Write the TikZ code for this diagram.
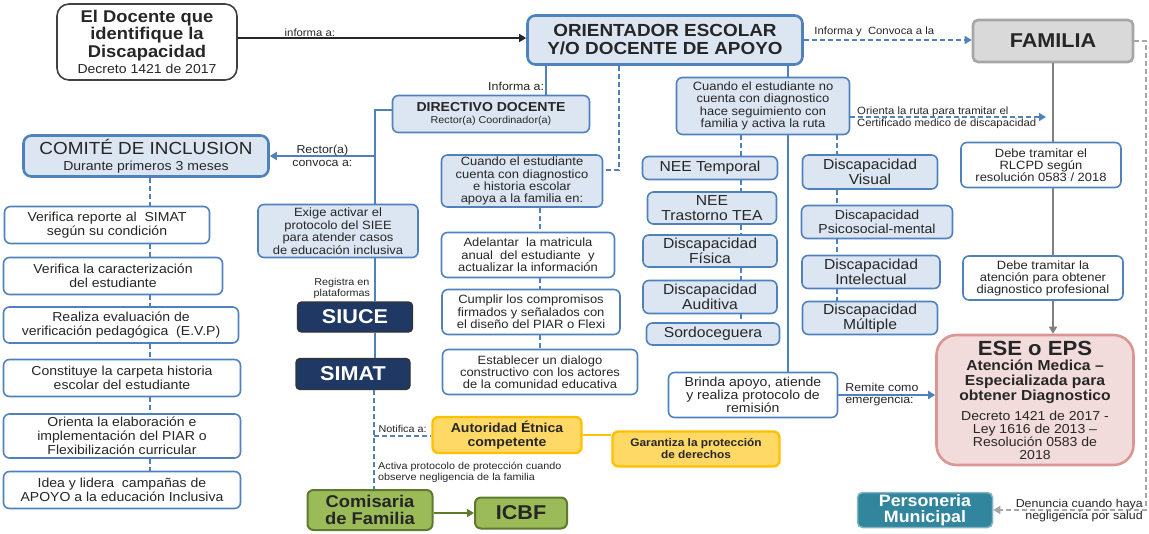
\documentclass[tikz,border=0pt]{standalone}
\usepackage{fontspec}
\setmainfont{Liberation Sans}[FakeStretch=1.08]
\usepackage{tikz}
\usetikzlibrary{arrows.meta}

\definecolor{azulborde}{HTML}{4F81BD}
\definecolor{azulfondo}{HTML}{DCE6F2}
\definecolor{marino}{HTML}{203864}
\definecolor{amarillo}{HTML}{FFD966}
\definecolor{ambar}{HTML}{FFC000}
\definecolor{verde}{HTML}{9BBB59}
\definecolor{verdeosc}{HTML}{5E7A2C}
\definecolor{rosa}{HTML}{F2DCDB}
\definecolor{rosaborde}{HTML}{D99694}
\definecolor{grisfondo}{HTML}{D9D9D9}
\definecolor{grisborde}{HTML}{A6A6A6}
\definecolor{grislinea}{HTML}{808080}
\definecolor{petroleo}{HTML}{31859C}
\definecolor{texto}{HTML}{262626}
\newcommand{\tam}[2]{\fontsize{#1}{#2}\selectfont}

\begin{document}
\begin{tikzpicture}[x=1pt, y=-1pt,
  caja/.style={draw=azulborde, line width=1.6pt, rounded corners=6pt, fill=white,
    align=center, inner sep=1pt, text=texto, font=\tam{13}{14}},
  cajaazul/.style={caja, fill=azulfondo},
  cajagruesa/.style={cajaazul, line width=2.6pt, rounded corners=8pt},
  plataforma/.style={draw=black!80, line width=1.4pt, rounded corners=4pt, fill=marino,
    text=white, inner sep=1pt, font=\tam{20}{20}\bfseries},
  etiqueta/.style={font=\tam{10.5}{11.5}, text=texto, inner sep=1pt},
  linea/.style={draw=azulborde, line width=1.8pt},
  guion/.style={linea, dash pattern=on 5pt off 3pt},
  grisl/.style={draw=grislinea, line width=1.8pt},
  flecha/.style={-{Triangle[length=7pt,width=8pt]}}]

  \useasboundingbox (0,0) rectangle (1149,533);

  \node[caja, draw=black!75, rounded corners=12pt, minimum width=180, minimum height=76,
    font=\tam{17}{17.5}\bfseries] (docente) at (147,42)
    {El Docente que\\identifique la\\Discapacidad\\[-1pt]{\mdseries\tam{13}{14}Decreto 1421 de 2017}};
  \node[cajagruesa, minimum width=275, minimum height=49, font=\tam{17.5}{18}\bfseries]
    (orient) at (665,40) {ORIENTADOR ESCOLAR\\Y/O DOCENTE DE APOYO};
  \node[caja, fill=grisfondo, draw=grisborde, line width=2.6pt, rounded corners=5pt,
    minimum width=160, minimum height=42, font=\tam{20}{20}\bfseries] (familia) at (1053,41) {FAMILIA};

  \node[cajaazul, minimum width=197, minimum height=37, font=\tam{13}{12}\bfseries]
    (directivo) at (491,114) {DIRECTIVO DOCENTE\\{\mdseries\tam{10}{11}Rector(a) Coordinador(a)}};
  \node[cajagruesa, minimum width=245, minimum height=41, font=\tam{17.5}{16}]
    (comite) at (146,156) {COMITÉ DE INCLUSION\\{\tam{13}{14}Durante primeros 3 meses}};

  \node[caja, minimum width=205, minimum height=37] (ver1) at (107,225)
    {Verifica reporte al\ \ SIMAT\\según su condición};
  \node[caja, minimum width=219, minimum height=37] (ver2) at (113,276)
    {Verifica la caracterización\\del estudiante};
  \node[caja, minimum width=235, minimum height=36] (ver3) at (121,325)
    {Realiza evaluación de\\verificación pedagógica\ \ (E.V.P)};
  \node[caja, minimum width=237, minimum height=37] (ver4) at (122,378)
    {Constituye la carpeta historia\\escolar del estudiante};
  \node[caja, minimum width=237, minimum height=44] (ver5) at (122,436)
    {Orienta la elaboración e\\implementación del PIAR o\\Flexibilización curricular};
  \node[caja, minimum width=237, minimum height=37] (ver6) at (122,490)
    {Idea y lidera\ \ campañas de\\APOYO a la educación Inclusiva};

  \node[cajaazul, minimum width=160, minimum height=53, font=\tam{12}{12.5}] (exige) at (338,231)
    {Exige activar el\\protocolo del SIEE\\para atender casos\\de educación inclusiva};
  \node[plataforma, minimum width=115, minimum height=30] (siuce) at (355,317) {SIUCE};
  \node[plataforma, minimum width=114, minimum height=31] (simat) at (353,374) {SIMAT};

  \node[caja, fill=amarillo, draw=ambar, line width=2.4pt, minimum width=149, minimum height=36,
    font=\tam{13}{13.5}\bfseries] (autoridad) at (507,435) {Autoridad Étnica\\competente};
  \node[caja, fill=amarillo, draw=ambar, line width=2.4pt, minimum width=167, minimum height=35,
    font=\tam{11}{12}\bfseries] (garantiza) at (696,449) {Garantiza la protección\\de derechos};
  \node[caja, fill=verde, draw=verdeosc, line width=2pt, minimum width=125, minimum height=40,
    font=\tam{17}{17}\bfseries] (comisaria) at (370,510) {Comisaria\\de Familia};
  \node[caja, fill=verde, draw=verdeosc, line width=2pt, minimum width=92, minimum height=31,
    font=\tam{20}{20}\bfseries] (icbf) at (521,513) {ICBF};

  \node[cajaazul, minimum width=161, minimum height=52, font=\tam{12}{12.2}] (cuando1) at (522,181)
    {Cuando el estudiante\\cuenta con diagnostico\\e historia escolar\\apoya a la familia en:};
  \node[caja, minimum width=173, minimum height=45, font=\tam{12}{12.5}] (adelantar) at (528,255)
    {Adelantar\ \ la matricula\\anual\ \ del estudiante\ \ y\\actualizar la información};
  \node[caja, minimum width=178, minimum height=45, font=\tam{12}{12.5}] (cumplir) at (531,312)
    {Cumplir los compromisos\\firmados y señalados con\\el diseño del PIAR o Flexi};
  \node[caja, minimum width=195, minimum height=45, font=\tam{12}{12}] (establecer) at (540,372)
    {Establecer un dialogo\\constructivo con los actores\\de la comunidad educativa};

  \node[cajaazul, minimum width=173, minimum height=57, font=\tam{12}{12.5}] (cuandono) at (763,106)
    {Cuando el estudiante no\\cuenta con diagnostico\\hace seguimiento con\\familia y activa la ruta};

  \node[cajaazul, minimum width=135, minimum height=23, font=\tam{14.5}{14.5}] (nee1) at (710,168) {NEE Temporal};
  \node[cajaazul, minimum width=129, minimum height=32, font=\tam{14.5}{14.5}] (nee2) at (712,208) {NEE\\Trastorno TEA};
  \node[cajaazul, minimum width=134, minimum height=32, font=\tam{14.5}{14.5}] (nee3) at (710,251) {Discapacidad\\Física};
  \node[cajaazul, minimum width=134, minimum height=33, font=\tam{14.5}{14.5}] (nee4) at (710,297) {Discapacidad\\Auditiva};
  \node[cajaazul, minimum width=133, minimum height=22, font=\tam{14.5}{14.5}] (nee5) at (713,334) {Sordoceguera};

  \node[cajaazul, minimum width=135, minimum height=34, font=\tam{14.5}{14.5}] (dis1) at (870,172) {Discapacidad\\Visual};
  \node[cajaazul, minimum width=151, minimum height=33, font=\tam{13}{13.5}] (dis2) at (877,222) {Discapacidad\\Psicosocial-mental};
  \node[cajaazul, minimum width=138, minimum height=33, font=\tam{14.5}{14.5}] (dis3) at (871,272) {Discapacidad\\Intelectual};
  \node[cajaazul, minimum width=135, minimum height=33, font=\tam{14.5}{14.5}] (dis4) at (870,318) {Discapacidad\\Múltiple};

  \node[caja, minimum width=160, minimum height=45, font=\tam{12}{12}] (debe1) at (1041,165)
    {Debe tramitar el\\RLCPD según\\resolución 0583 / 2018};
  \node[caja, minimum width=160, minimum height=44, font=\tam{12}{12}] (debe2) at (1043,278)
    {Debe tramitar la\\atención para obtener\\diagnostico profesional};

  \node[caja, fill=rosa, draw=rosaborde, line width=2.6pt, rounded corners=20pt, minimum width=197,
    minimum height=130, font=\tam{14.5}{15}\bfseries] (ese) at (1035,400)
    {{\tam{20.5}{21}ESE o EPS}\\Atención Medica –\\Especializada para\\obtener Diagnostico\\[5pt]
     {\mdseries\tam{13}{13}Decreto 1421 de 2017 -}\\[-2pt]{\mdseries\tam{13}{13}Ley 1616 de 2013 –}\\[-2pt]
     {\mdseries\tam{13}{13}Resolución 0583 de}\\[-2pt]{\mdseries\tam{13}{13}2018}};
  \node[caja, minimum width=169, minimum height=45, font=\tam{13}{13.3}] (brinda) at (753,395)
    {Brinda apoyo, atiende\\y realiza protocolo de\\remisión};
  \node[caja, fill=petroleo, draw=petroleo!60, line width=1.5pt, rounded corners=5pt, text=white,
    minimum width=135, minimum height=35, font=\tam{16.5}{16.5}\bfseries] (personeria) at (925,510)
    {Personeria\\Municipal};

  \coordinate (notifica) at (374,436);
  \coordinate (ruta) at (1046,117);
  \coordinate (borde) at (1146,41);

  \draw[line width=1.5pt, draw=black!85, flecha] ([yshift=4]docente.east) -- ([yshift=4]docente.east -| orient.west)
    node[etiqueta, above, pos=.25] {informa a:};
  \draw[guion, flecha] (orient.east) -- (orient.east -| familia.west)
    node[etiqueta, above=1pt, pos=.42] {Informa y\ \ Convoca a la};
  \draw[linea] (orient.south -| 546,0) -- (directivo.north -| 546,0)
    node[etiqueta, left, pos=.72, font=\tam{11.5}{12}] {Informa a:};
  \draw[guion] (orient.south -| 619,0) |- ([yshift=11]cuando1.east);

  \draw[linea] ([yshift=4]directivo.west) -| (exige.north -| 375,0);
  \draw[linea, flecha] (comite.east -| 375,0) -- (comite.east)
    node[etiqueta, midway, align=center, font=\tam{11.5}{12.5}] {Rector(a)\\convoca a:};
  \draw[linea] (exige.south -| 375,0) -- (siuce.north -| 375,0)
    node[etiqueta, left=3pt, pos=.7, align=center, font=\tam{10}{11.5}] {Registra en\\plataformas};
  \draw[linea] (siuce.south -| 375,0) -- (simat.north -| 375,0);
  \draw[guion] (simat.south -| 374,0) -- (comisaria.north -| 374,0);
  \draw[guion] (notifica) -- (notifica -| autoridad.west)
    node[etiqueta, midway, above=2pt, font=\tam{10}{11}] {Notifica a:};
  \node[etiqueta, anchor=north west, align=left, font=\tam{10}{11}] (activa) at (377,461)
    {Activa protocolo de protección cuando\\observe negligencia de la familia};
  \draw[draw=ambar, line width=2pt] (autoridad.east) -- (autoridad.east -| garantiza.west);
  \draw[draw=verdeosc, line width=1.8pt, flecha] (comisaria.east |- icbf.west) -- (icbf.west);

  \foreach \a/\b in {comite/ver1, ver1/ver2, ver2/ver3, ver3/ver4, ver4/ver5, ver5/ver6}
    \draw[guion] (\a.south -| 150,0) -- (\b.north -| 150,0);
  \foreach \a/\b in {cuando1/adelantar, adelantar/cumplir, cumplir/establecer}
    \draw[guion] (\a.south -| 540,0) -- (\b.north -| 540,0);

  \draw[linea] (orient.south -| 788,0) -- (cuandono.north -| 788,0);
  \draw[linea] (cuandono.south -| 788,0) -- (brinda.north -| 788,0);
  \foreach \a/\b in {cuandono/nee1, nee1/nee2, nee2/nee3, nee3/nee4, nee4/nee5}
    \draw[guion] (\a.south -| 741,0) -- (\b.north -| 741,0);
  \foreach \a/\b in {cuandono/dis1, dis1/dis2, dis2/dis3, dis3/dis4}
    \draw[guion] (\a.south -| 837,0) -- (\b.north -| 837,0);
  \draw[guion, flecha] ([yshift=-11]cuandono.east) -- (ruta)
    node[etiqueta, pos=0, anchor=west, xshift=5pt, yshift=-1pt, align=left, font=\tam{10.5}{12}]
    {Orienta la ruta para tramitar el\\Certificado medico de discapacidad};

  \draw[grisl] (familia.south) -- (debe1.north -| familia.south);
  \draw[grisl] (debe1.south -| familia.south) -- (debe2.north -| familia.south);
  \draw[grisl, flecha] (debe2.south -| familia.south) -- (ese.north -| familia.south);

  \draw[linea, flecha] (brinda.east) -- (brinda.east -| ese.west)
    node[etiqueta, pos=.45, align=left, font=\tam{11.5}{12}] {Remite como\\emergencia:};

  \draw[draw=grisborde, line width=1.5pt, dash pattern=on 5pt off 3pt, flecha]
    (familia.east) -- (borde) |- (personeria.east);
  \node[etiqueta, anchor=east, align=right, font=\tam{11.5}{12}] (denuncia) at (1144,511)
    {Denuncia cuando haya\\negligencia por salud};
\end{tikzpicture}
\end{document}
